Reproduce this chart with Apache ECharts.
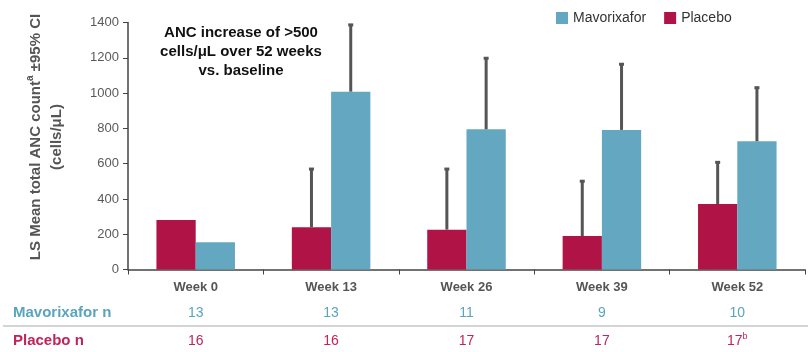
<!DOCTYPE html>
<html>
<head>
<meta charset="utf-8">
<script src="https://cdn.jsdelivr.net/npm/echarts@6/dist/echarts.min.js"></script>
<style>
  html, body { margin: 0; padding: 0; background: #fff; }
  #chart { width: 808px; height: 352px; }
</style>
</head>
<body>
<div id="chart"></div>
<script>
// Visit labels
const weeks = ['Week 0', 'Week 13', 'Week 26', 'Week 39', 'Week 52'];

// LS mean total ANC (cells/µL) and upper 95% CI bound
const placeboMean = [280, 239, 226, 190, 371];
const placeboUpper = [null, 575, 575, 506, 613];
const mavorixaforMean = [154, 1008, 795, 791, 727];
const mavorixaforUpper = [null, 1392, 1203, 1169, 1036];

// Patients per visit (footnote marker on the last placebo count)
const mavorixaforN = ['13', '13', '11', '9', '10'];
const placeboN = ['16', '16', '17', '17', '17'];
const placeboNNote = ['', '', '', '', 'b'];

const yTicks = { min: 0, max: 1400, interval: 200 };

const BLUE = '#63a8c0';
const RED = '#b01446';
const ERR = '#555555';
const NARROW = '"Liberation Sans Narrow", "Arial Narrow", "Liberation Sans", Arial, sans-serif';
const SANS = '"Liberation Sans", Arial, Helvetica, sans-serif';

// Error bar: vertical stem from bar top to upper bound, with a small cap.
// side = -1 for the left bar in each group, +1 for the right bar.
function errorSeries(name, means, uppers, side) {
  const data = [];
  means.forEach((m, i) => {
    if (uppers[i] != null) data.push([i, m, uppers[i]]);
  });
  return {
    type: 'custom',
    name: name + ' CI',
    z: 5,
    silent: true,
    data: data,
    renderItem: function (params, api) {
      const i = api.value(0);
      const band = api.size([1, 0])[0];
      const off = side * band * 0.145;
      const lo = api.coord([i, api.value(1)]);
      const hi = api.coord([i, api.value(2)]);
      const x = lo[0] + off;
      return {
        type: 'group',
        children: [
          { type: 'line', shape: { x1: x, y1: lo[1], x2: x, y2: hi[1] },
            style: { stroke: ERR, lineWidth: 3 } },
          { type: 'line', shape: { x1: x - 2.5, y1: hi[1] + 1, x2: x + 2.5, y2: hi[1] + 1 },
            style: { stroke: ERR, lineWidth: 3 } }
        ]
      };
    }
  };
}

const chart = echarts.init(document.getElementById('chart'), null, { renderer: 'canvas' });

chart.setOption({
  animation: false,
  backgroundColor: '#ffffff',
  grid: { left: 128, right: 3, top: 22.5, bottom: 82.5, containLabel: false },
  legend: {
    data: ['Mavorixafor', 'Placebo'],
    left: 551, top: 6,
    icon: 'rect', itemWidth: 12, itemHeight: 12, itemGap: 18,
    textStyle: { fontFamily: SANS, fontSize: 14, color: '#333' }
  },
  xAxis: {
    type: 'category',
    data: weeks,
    axisLine: { lineStyle: { color: '#444', width: 1.5 } },
    axisTick: { show: true, length: 5, lineStyle: { color: '#444' } },
    axisLabel: {
      margin: 5,
      interval: 0,
      formatter: function (v, i) {
        return '{w|' + v + '}\n{m|' + mavorixaforN[i] + '}\n{p|' + placeboN[i] + '}' +
          (placeboNNote[i] ? '{sup|' + placeboNNote[i] + '}' : '');
      },
      rich: {
        w: { fontFamily: NARROW, fontWeight: 'bold', fontSize: 13, color: '#555', lineHeight: 26 },
        m: { fontFamily: NARROW, fontSize: 14, color: '#5aa4bd', lineHeight: 26 },
        p: { fontFamily: NARROW, fontSize: 14, color: '#c0245a', lineHeight: 30 },
        sup: { fontFamily: NARROW, fontSize: 9, color: '#c0245a', lineHeight: 9, padding: [0, 0, 10, 0] }
      }
    }
  },
  yAxis: {
    type: 'value',
    min: yTicks.min, max: yTicks.max, interval: yTicks.interval,
    splitLine: { show: false },
    axisLine: { show: true, lineStyle: { color: '#444', width: 1.5 } },
    axisTick: { show: true, length: 5, lineStyle: { color: '#444' } },
    axisLabel: { margin: 9, fontFamily: SANS, fontSize: 13, color: '#5a5a5a',
      formatter: function (v) { return String(v); } }
  },
  series: [
    {
      name: 'Placebo', type: 'bar', data: placeboMean,
      barWidth: '29%', barGap: '0%',
      itemStyle: { color: RED }
    },
    {
      name: 'Mavorixafor', type: 'bar', data: mavorixaforMean,
      barWidth: '29%', barGap: '0%',
      itemStyle: { color: BLUE }
    },
    errorSeries('Placebo', placeboMean, placeboUpper, -1),
    errorSeries('Mavorixafor', mavorixaforMean, mavorixaforUpper, 1)
  ],
  graphic: [
    {
      type: 'text',
      x: 46, y: 137, rotation: Math.PI / 2,
      style: {
        text: '{t|LS Mean total ANC count}{s|a}{t| ±95% CI}\n{t|(cells/μL)}',
        align: 'center', verticalAlign: 'middle',
        rich: {
          t: { fontFamily: SANS, fontWeight: 'bold', fontSize: 15, fill: '#555', lineHeight: 21 },
          s: { fontFamily: SANS, fontWeight: 'bold', fontSize: 10, fill: '#555', lineHeight: 12, verticalAlign: 'top' }
        }
      }
    },
    {
      type: 'text',
      style: {
        x: 241, y: 52, text: 'ANC increase of >500\ncells/μL over 52 weeks\nvs. baseline',
        align: 'center', verticalAlign: 'middle',
        fontFamily: SANS, fontWeight: 'bold', fontSize: 15, lineHeight: 19, fill: '#111'
      }
    },
    {
      type: 'text',
      style: { x: 13, y: 313, text: 'Mavorixafor n', verticalAlign: 'middle',
        fontFamily: NARROW, fontWeight: 'bold', fontSize: 15, fill: '#5aa4bd' }
    },
    {
      type: 'text',
      style: { x: 13, y: 341, text: 'Placebo n', verticalAlign: 'middle',
        fontFamily: NARROW, fontWeight: 'bold', fontSize: 15, fill: '#c0245a' }
    },
    {
      type: 'line',
      shape: { x1: 3, y1: 326, x2: 808, y2: 326 },
      style: { stroke: '#d4d4d4', lineWidth: 2 }
    }
  ]
});
</script>
</body>
</html>
